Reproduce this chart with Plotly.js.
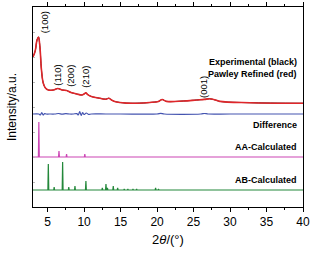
<!DOCTYPE html>
<html><head><meta charset="utf-8">
<script src="https://cdn.plot.ly/plotly-3.0.1.min.js"></script>
<style>html,body{margin:0;padding:0;background:#fff}#c{width:315px;height:256px}</style>
</head><body><div id="c"></div>
<script>
// Experimental / Pawley refined pattern (offset units)
var expX = [3.0,3.3,3.55,3.75,3.95,4.15,4.4,4.7,5.1,5.8,6.4,7.0,7.6,8.2,9.0,9.7,10.0,10.25,10.5,11.0,12.2,13.0,13.4,13.8,14.2,15.8,18.1,19.0,20.2,20.7,21.3,23.6,25.4,26.5,27.2,28.0,28.6,32.7,40.0];
var expY = [150,156,167,170,160,138,124,119,117,117,118.5,117,116.5,114.5,113,112,113,114.2,112.3,110.5,108.7,107.8,108.8,106.8,105.5,103.9,104,104.5,105.6,107.5,105.6,106,107,107.6,108.2,107,105.6,104.3,103.7];
// Difference curve
var difX = [3,3.8,4.0,4.2,4.4,4.6,4.8,5.2,6,6.5,7,7.5,8,8.5,9.0,9.2,9.4,9.6,9.8,10.0,10.3,10.6,11,13,15,20,20.5,21,26,26.5,27,30,40];
var difY = [93,93,92,94.5,92,93.5,93,93,93,93.5,92.8,93.3,93,93,93.4,92,95.5,91.5,94.5,92.5,94,92.6,93,93,93,93,93.6,93,93,93.5,93,93,93];
// AA-calculated sticks
var aaBase = 50;
var aaPos = [3.8,6.56,7.6,10.1];
var aaTop = [85,56,53,53];
// AB-calculated sticks
var abBase = 17;
var abPos = [5.1,5.9,7.06,7.9,8.75,10.25,12.5,13.0,13.2,14.0,14.6,15.5,16.0,16.7,17.2,19.8,20.2];
var abTop = [43,20,45,20,21,26,19,23,19,21,19,18,18,18,18,19,18];
// Peak labels
var hklText = ['(100)','(110)','(200)','(210)','(001)'];
var hklX = [4.55,6.25,8.05,10.1,26.3];
var hklY = [185,132,131,130,120];
// Series labels
var serText = ['Experimental (black)','Pawley Refined (red)','Difference','AA-Calculated','AB-Calculated'];
var serY = [145,133,82,60,27];

function sticks(base, pos, top){
  var x=[3], y=[base];
  for (var i=0;i<pos.length;i++){
    x.push(pos[i]-0.06, pos[i], pos[i]+0.06);
    y.push(base, top[i], base);
  }
  x.push(40); y.push(base);
  return {x:x,y:y};
}
var aa = sticks(aaBase, aaPos, aaTop);
var ab = sticks(abBase, abPos, abTop);

var traces = [
  {x:expX,y:expY,mode:'lines',line:{color:'#000',width:1,shape:'spline'},hoverinfo:'skip'},
  {x:expX,y:expY,mode:'lines',line:{color:'#e0262a',width:1.6,shape:'spline'},hoverinfo:'skip'},
  {x:difX,y:difY,mode:'lines',line:{color:'#4454b0',width:1.2,shape:'spline'},hoverinfo:'skip'},
  {x:aa.x,y:aa.y,mode:'lines',line:{color:'#cc44b4',width:1.2},hoverinfo:'skip'},
  {x:ab.x,y:ab.y,mode:'lines',line:{color:'#23883a',width:1.2},hoverinfo:'skip'}
];

var ann = [];
for (var i=0;i<hklText.length;i++){
  ann.push({x:hklX[i],y:hklY[i],xref:'x',yref:'y',text:hklText[i],showarrow:false,textangle:-90,
    font:{family:'Arial, Liberation Sans, sans-serif',size:9.5,color:'#000'}});
}
for (var j=0;j<serText.length;j++){
  ann.push({x:39.5,y:serY[j],xref:'x',yref:'y',text:'<b>'+serText[j]+'</b>',showarrow:false,xanchor:'right',
    font:{family:'Arial, Liberation Sans, sans-serif',size:9,color:'#000'}});
}

var layout = {
  width:315,height:256,
  margin:{l:33,r:12,t:7,b:49},
  paper_bgcolor:'#fff',plot_bgcolor:'#fff',
  showlegend:false,
  font:{family:'Arial, Liberation Sans, sans-serif',color:'#000'},
  xaxis:{range:[3,40],tick0:0,dtick:5,ticks:'outside',ticklen:4,tickwidth:1,tickcolor:'#000',
    minor:{dtick:2.5,ticks:'outside',ticklen:2,tickcolor:'#000'},
    showline:true,linecolor:'#000',linewidth:1,mirror:'allticks',showgrid:false,zeroline:false,
    tickfont:{size:12,color:'#000'},
    title:{text:'2<i>θ</i>/(°)',font:{size:13,color:'#000'},standoff:6}},
  yaxis:{range:[0,200],showticklabels:false,ticks:'inside',ticklen:2,dtick:25,tickcolor:'#bbb',
    showline:true,linecolor:'#000',linewidth:1,mirror:true,showgrid:false,zeroline:false,
    title:{text:'Intensity/a.u.',font:{size:12,color:'#000'},standoff:12}},
  annotations:ann
};
Plotly.newPlot('c',traces,layout,{staticPlot:true,displayModeBar:false});
</script></body></html>
